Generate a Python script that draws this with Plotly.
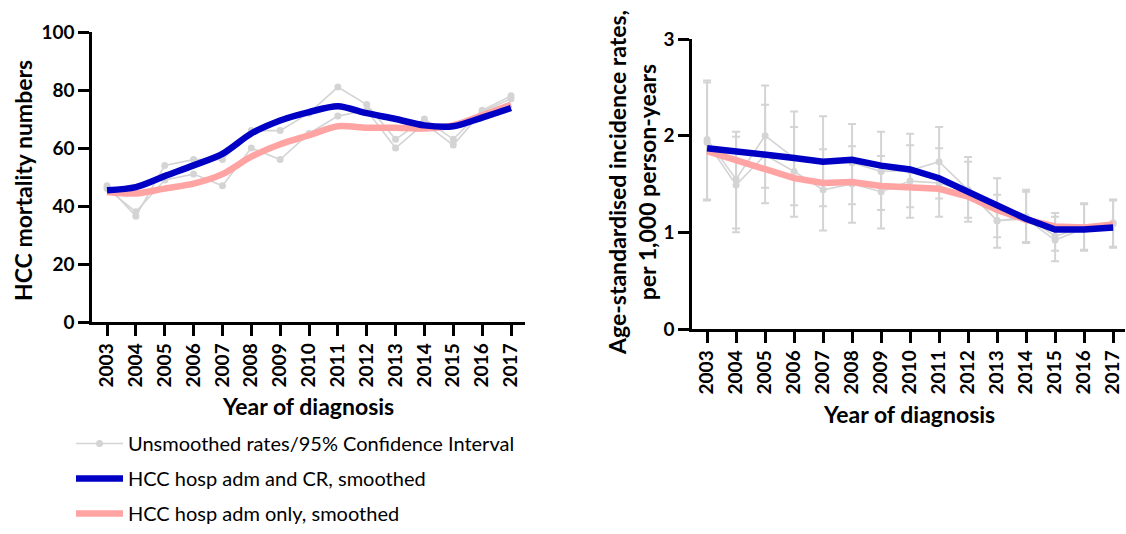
import plotly.graph_objects as go

years = list(range(2003, 2018))

# Left panel: HCC mortality numbers
mort_raw_a = [47, 36.5, 54, 56, 56, 66, 66, 72, 81, 75, 63, 70, 63, 73, 78]
mort_raw_b = [46, 38, 49, 51, 47, 60, 56, 65, 71, 73, 60, 68.5, 61, 72.5, 77]
mort_smooth_cr = [45.4, 46.5, 50.3, 54, 58, 65, 69.5, 72.4, 74.4, 72, 70, 67.8, 67.5, 70.5, 73.8]
mort_smooth_hosp = [44.8, 44.3, 46, 47.7, 51, 57, 61.3, 64.4, 67.5, 67, 67, 66.7, 67.8, 71.3, 75]

# Right panel: age-standardised incidence rates per 1,000 person-years
inc_raw_a = [1.96, 1.55, 2.00, 1.77, 1.73, 1.72, 1.63, 1.64, 1.73, 1.44, 1.12, 1.16, 0.96, 1.05, 1.10]
inc_hi_a = [2.57, 2.04, 2.52, 2.25, 2.20, 2.12, 2.04, 2.02, 2.09, 1.78, 1.56, 1.44, 1.20, 1.30, 1.34]
inc_lo_a = [1.34, 1.04, 1.46, 1.28, 1.27, 1.29, 1.23, 1.26, 1.35, 1.11, 0.84, 0.89, 0.81, 0.81, 0.84]
inc_raw_b = [1.93, 1.49, 1.80, 1.63, 1.44, 1.50, 1.42, 1.53, 1.51, 1.42, 1.12, 1.14, 0.92, 1.04, 1.09]
inc_hi_b = [2.55, 1.99, 2.32, 2.09, 1.86, 1.89, 1.79, 1.90, 1.87, 1.73, 1.39, 1.42, 1.16, 1.29, 1.33]
inc_lo_b = [1.33, 1.00, 1.30, 1.16, 1.02, 1.10, 1.04, 1.15, 1.16, 1.15, 0.95, 0.90, 0.70, 0.82, 0.85]
inc_smooth_cr = [1.87, 1.84, 1.80, 1.77, 1.73, 1.75, 1.69, 1.65, 1.56, 1.42, 1.27, 1.14, 1.03, 1.03, 1.05]
inc_smooth_hosp = [1.84, 1.75, 1.65, 1.56, 1.51, 1.52, 1.48, 1.46, 1.45, 1.37, 1.23, 1.13, 1.06, 1.05, 1.08]

GRAY = "#d4d4d4"
BLUE = "#0000c4"
PINK = "#ffa3a3"
FONT = "Lato"

fig = go.Figure()

def raw_trace(y, xa, ya, show, err=None):
    kw = {}
    if err is not None:
        hi, lo = err
        kw["error_y"] = dict(type="data", symmetric=False,
                             array=[h - v for h, v in zip(hi, y)],
                             arrayminus=[v - l for v, l in zip(y, lo)],
                             color=GRAY, thickness=2, width=4)
    return go.Scatter(x=years, y=y, xaxis=xa, yaxis=ya, mode="lines+markers",
                      line=dict(color=GRAY, width=1.6),
                      marker=dict(color=GRAY, size=7),
                      name="Unsmoothed rates/95% Confidence Interval",
                      legendgroup="g1", showlegend=show, legendrank=1, **kw)

fig.add_trace(raw_trace(mort_raw_a, "x", "y", True))
fig.add_trace(raw_trace(mort_raw_b, "x", "y", False))
fig.add_trace(raw_trace(inc_raw_a, "x2", "y2", False, (inc_hi_a, inc_lo_a)))
fig.add_trace(raw_trace(inc_raw_b, "x2", "y2", False, (inc_hi_b, inc_lo_b)))

fig.add_trace(go.Scatter(x=years, y=mort_smooth_hosp, xaxis="x", yaxis="y", mode="lines",
                         line=dict(color=PINK, width=6.5, shape="spline", smoothing=0.8),
                         name="HCC hosp adm only, smoothed", legendgroup="g3", legendrank=3))
fig.add_trace(go.Scatter(x=years, y=mort_smooth_cr, xaxis="x", yaxis="y", mode="lines",
                         line=dict(color=BLUE, width=6.5, shape="spline", smoothing=0.8),
                         name="HCC hosp adm and CR, smoothed", legendgroup="g2", legendrank=2))
fig.add_trace(go.Scatter(x=years, y=inc_smooth_hosp, xaxis="x2", yaxis="y2", mode="lines",
                         line=dict(color=PINK, width=6.5),
                         name="HCC hosp adm only, smoothed", legendgroup="g3", showlegend=False))
fig.add_trace(go.Scatter(x=years, y=inc_smooth_cr, xaxis="x2", yaxis="y2", mode="lines",
                         line=dict(color=BLUE, width=6.5),
                         name="HCC hosp adm and CR, smoothed", legendgroup="g2", showlegend=False))

W, H = 1126, 534
axis_common = dict(showline=True, linecolor="black", linewidth=2.5, ticks="outside",
                   ticklen=11, tickwidth=2.5, tickcolor="black", showgrid=False,
                   zeroline=False, automargin=False,
                   tickfont=dict(family=FONT, size=19, color="black", weight="bold"))

def fy(py):
    return 1 - py / H

fig.update_layout(
    width=W, height=H, margin=dict(l=0, r=0, t=0, b=0),
    paper_bgcolor="white", plot_bgcolor="white",
    xaxis=dict(domain=[92 / W, 525 / W], range=[2002.48, 2017.485], tickvals=years,
               tickangle=-90, anchor="y", **axis_common),
    yaxis=dict(domain=[fy(322), fy(32)], range=[0, 100], tickvals=[0, 20, 40, 60, 80, 100],
               anchor="x", **axis_common),
    xaxis2=dict(domain=[692 / W, 1125 / W], range=[2002.48, 2017.41], tickvals=years,
                tickangle=-90, anchor="y2", **axis_common),
    yaxis2=dict(domain=[fy(329), fy(39)], range=[0, 3], tickvals=[0, 1, 2, 3],
                anchor="x2", **axis_common),
    showlegend=True,
    legend=dict(x=71 / W, y=fy(424), xanchor="left", yanchor="top",
                font=dict(family=FONT, size=20, color="black"),
                tracegroupgap=6, itemwidth=47, bgcolor="rgba(0,0,0,0)"),
    font=dict(family=FONT, color="black"),
)

title_font = dict(family=FONT, size=23, color="black", weight="bold")
ann = dict(xref="paper", yref="paper", showarrow=False, font=title_font,
           xanchor="center", yanchor="middle")
fig.add_annotation(text="HCC mortality numbers", x=23 / W, y=fy(181), textangle=-90, **ann)
fig.add_annotation(text="Year of diagnosis", x=308 / W, y=fy(406), **ann)
fig.add_annotation(text="Age-standardised incidence rates,<br>per 1,000 person-years",
                   x=632 / W, y=fy(183), textangle=-90, **ann)
fig.add_annotation(text="Year of diagnosis", x=909 / W, y=fy(414), **ann)

fig.write_html(
    "out.html", config={"displayModeBar": False},
    post_script=("document.body.style.margin='0';document.body.style.overflow='hidden';"
                 "document.documentElement.style.overflow='hidden';"))
